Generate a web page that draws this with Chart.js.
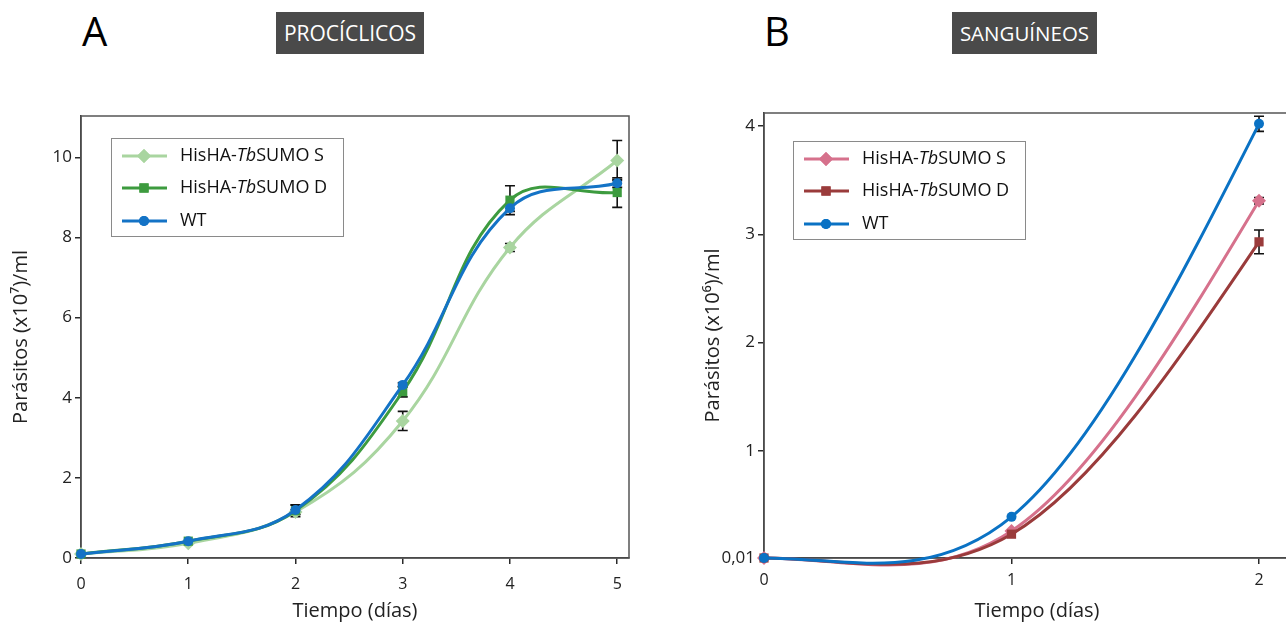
<!DOCTYPE html>
<html lang="es">
<head>
  <meta charset="UTF-8">
  <title>Curvas de crecimiento</title>
  <script src="https://cdn.jsdelivr.net/npm/chart.js"></script>
  <style>
    body {
      margin: 0;
      width: 1286px;
      height: 626px;
      overflow: hidden;
      position: relative;
      background: #fff;
      font-family: 'Open Sans', sans-serif;
      color: #000;
    }
    .panel {
      position: absolute;
      top: 0;
      width: 660px;
      height: 626px;
    }
    .letter {
      position: absolute;
      top: 7px;
      font-size: 40px;
      line-height: 48px;
    }
    .tag {
      position: absolute;
      top: 12px;
      height: 42px;
      line-height: 42px;
      background: #4a4a4a;
      color: #fff;
      font-size: 21px;
      text-align: center;
    }
  </style>
</head>
<body>
  <div class="letter" style="left:82px">A</div>
  <div class="tag" style="left:276px; width:148px">PROCÍCLICOS</div>
  <div class="letter" style="left:764px">B</div>
  <div class="tag" style="left:952px; width:145px; font-size:20.5px">SANGUÍNEOS</div>

  <div class="panel" style="left:0"><canvas id="procChart" width="660" height="626"></canvas></div>
  <div class="panel" style="left:680px"><canvas id="bloodChart" width="660" height="626"></canvas></div>

  <script>
    // procíclicos (x10^7/ml)
    const procDays = [0, 1, 2, 3, 4, 5];
    const procS  = [0.10, 0.37, 1.15, 3.42, 7.75, 9.92];
    const procD  = [0.10, 0.42, 1.18, 4.15, 8.93, 9.12];
    const procWT = [0.10, 0.42, 1.20, 4.32, 8.73, 9.35];
    const procSErr  = [0, 0, 0.05, 0.24, 0.10, 0.50];
    const procDErr  = [0, 0, 0.15, 0.13, 0.36, 0.37];
    const procWTErr = [0, 0, 0.12, 0.05, 0.08, 0.10];
    const procXTicks = [0, 1, 2, 3, 4, 5];
    const procYTicks = [0, 2, 4, 6, 8, 10];

    // sanguíneos (x10^6/ml)
    const bloodDays = [0, 1, 2];
    const bloodS  = [0.01, 0.26, 3.31];
    const bloodD  = [0.01, 0.23, 2.93];
    const bloodWT = [0.01, 0.39, 4.02];
    const bloodSErr  = [0, 0, 0.03];
    const bloodDErr  = [0, 0, 0.11];
    const bloodWTErr = [0, 0, 0.07];
    const bloodXTicks = [0, 1, 2];
    const bloodYTicks = [0.01, 1, 2, 3, 4];

    // legend labels: [normal, italic, normal]
    const nameS  = ['HisHA-', 'Tb', 'SUMO S'];
    const nameD  = ['HisHA-', 'Tb', 'SUMO D'];
    const nameWT = ['WT', '', ''];

    const FONT = "'Open Sans', sans-serif";
    const AXIS = '#2a2a2a';

    function toPoints(xs, ys) {
      return xs.map((x, i) => ({ x: x, y: ys[i] }));
    }

    function series(name, xs, ys, errs, color, style, radius, order) {
      return {
        label: name.join(''),
        legendParts: name,
        data: toPoints(xs, ys),
        errors: errs,
        borderColor: color,
        backgroundColor: color,
        borderWidth: 3,
        pointStyle: style,
        pointRadius: radius,
        pointBorderWidth: 0,
        tension: 0.4,
        clip: 10,
        order: order
      };
    }

    // cubic spline slopes, natural at the end, fixed slope at the start
    function splineSlopes(xs, ys, startSlope) {
      const n = xs.length;
      const h = [], d = [];
      for (let i = 0; i < n - 1; i++) {
        h[i] = xs[i + 1] - xs[i];
        d[i] = (ys[i + 1] - ys[i]) / h[i];
      }
      const a = [0], b = [2 * h[0]], c = [h[0]], r = [6 * (d[0] - startSlope)];
      for (let i = 1; i < n - 1; i++) {
        a[i] = h[i - 1]; b[i] = 2 * (h[i - 1] + h[i]); c[i] = h[i]; r[i] = 6 * (d[i] - d[i - 1]);
      }
      a[n - 1] = 0; b[n - 1] = 1; c[n - 1] = 0; r[n - 1] = 0;
      for (let i = 1; i < n; i++) {
        const w = a[i] / b[i - 1];
        b[i] -= w * c[i - 1];
        r[i] -= w * r[i - 1];
      }
      const M = [];
      M[n - 1] = r[n - 1] / b[n - 1];
      for (let i = n - 2; i >= 0; i--) M[i] = (r[i] - c[i] * M[i + 1]) / b[i];
      const m = [];
      for (let i = 0; i < n - 1; i++) m[i] = d[i] - h[i] * (2 * M[i] + M[i + 1]) / 6;
      m[n - 1] = d[n - 2] + h[n - 2] * (2 * M[n - 1] + M[n - 2]) / 6;
      return m;
    }

    // swap chart.js control points for spline ones (sanguíneos only)
    const spline = {
      id: 'spline',
      afterDatasetUpdate(chart, args, opts) {
        if (!opts.flatStart) return;
        const pts = args.meta.data;
        const xs = pts.map(p => p.x), ys = pts.map(p => p.y);
        const m = splineSlopes(xs, ys, 0);
        pts.forEach((p, i) => {
          const hp = i > 0 ? (xs[i] - xs[i - 1]) / 3 : 0;
          const hn = i < pts.length - 1 ? (xs[i + 1] - xs[i]) / 3 : 0;
          p.cp1x = xs[i] - hp; p.cp1y = ys[i] - m[i] * hp;
          p.cp2x = xs[i] + hn; p.cp2y = ys[i] + m[i] * hn;
        });
        args.meta.dataset._pointsUpdated = true;
      }
    };

    // error bars, drawn under the lines
    const errorBars = {
      id: 'errorBars',
      beforeDatasetsDraw(chart) {
        const ctx = chart.ctx;
        const xs = chart.scales.x, ys = chart.scales.y;
        ctx.save();
        ctx.strokeStyle = '#111';
        ctx.lineWidth = 1.6;
        chart.data.datasets.forEach(ds => {
          ds.data.forEach((p, i) => {
            const e = ds.errors[i];
            if (!e) return;
            const x = xs.getPixelForValue(p.x);
            const y1 = ys.getPixelForValue(p.y + e);
            const y2 = ys.getPixelForValue(p.y - e);
            ctx.beginPath();
            ctx.moveTo(x, y1); ctx.lineTo(x, y2);
            ctx.moveTo(x - 5, y1); ctx.lineTo(x + 5, y1);
            ctx.moveTo(x - 5, y2); ctx.lineTo(x + 5, y2);
            ctx.stroke();
          });
        });
        ctx.restore();
      }
    };

    // box around plot area
    const frame = {
      id: 'frame',
      beforeDatasetsDraw(chart) {
        const a = chart.chartArea, ctx = chart.ctx;
        ctx.save();
        ctx.strokeStyle = '#555';
        ctx.lineWidth = 1.5;
        ctx.strokeRect(a.left, a.top, a.right - a.left, a.bottom - a.top);
        ctx.restore();
      }
    };

    // legend with italic "Tb"
    const boxLegend = {
      id: 'boxLegend',
      afterDraw(chart, args, opts) {
        const ctx = chart.ctx, a = chart.chartArea;
        const bx = a.left + opts.dx, by = a.top + opts.dy;
        ctx.save();
        ctx.fillStyle = '#fff';
        ctx.fillRect(bx, by, 232, 98);
        ctx.strokeStyle = '#8a8a8a';
        ctx.lineWidth = 1;
        ctx.strokeRect(bx + 0.5, by + 0.5, 232, 98);
        const rows = [18, 50, 83];
        chart.data.datasets.forEach((ds, k) => {
          const y = by + rows[k];
          ctx.strokeStyle = ds.borderColor;
          ctx.lineWidth = 3;
          ctx.beginPath();
          ctx.moveTo(bx + 11, y); ctx.lineTo(bx + 56, y);
          ctx.stroke();
          ctx.fillStyle = ds.borderColor;
          Chart.helpers.drawPoint(ctx, { pointStyle: ds.pointStyle, radius: ds.pointRadius, borderWidth: 0 }, bx + 33, y);
          ctx.fill();
          let tx = bx + 69;
          ctx.fillStyle = '#111';
          ctx.textBaseline = 'middle';
          ds.legendParts.forEach((part, j) => {
            if (!part) return;
            ctx.font = (j === 1 ? 'italic ' : '') + '18px ' + FONT;
            ctx.fillText(part, tx, y);
            tx += ctx.measureText(part).width;
          });
        });
        ctx.restore();
      }
    };

    function makeChart(id, cfg) {
      const ctx = document.getElementById(id).getContext('2d');
      return new Chart(ctx, {
        type: 'line',
        data: { datasets: cfg.datasets },
        plugins: [spline, frame, errorBars, boxLegend],
        options: {
          responsive: false,
          animation: false,
          layout: { autoPadding: false, padding: cfg.padding },
          plugins: {
            legend: { display: false },
            tooltip: { enabled: false },
            boxLegend: cfg.legend,
            spline: { flatStart: cfg.flatStart }
          },
          scales: {
            x: {
              type: 'linear',
              min: 0,
              max: cfg.xMax,
              afterBuildTicks: s => { s.ticks = cfg.xTicks.map(v => ({ value: v })); },
              afterFit: s => { s.height = 68; },
              grid: { drawOnChartArea: false, drawTicks: true, tickLength: 6, color: AXIS, lineWidth: 1.5 },
              border: { color: AXIS, width: 1.5 },
              ticks: { color: '#222', padding: cfg.xPad, font: { family: FONT, size: 16 } },
              title: { display: true, text: 'Tiempo (días)', color: '#222', padding: { top: 0, bottom: 3 }, font: { family: FONT, size: 20 } }
            },
            y: {
              type: 'linear',
              min: cfg.yMin,
              max: cfg.yMax,
              afterBuildTicks: s => { s.ticks = cfg.yTicks.map(v => ({ value: v })); },
              afterFit: s => { s.width = cfg.yWidth; },
              grid: { drawOnChartArea: false, drawTicks: true, tickLength: 6, color: AXIS, lineWidth: 1.5 },
              border: { color: AXIS, width: 1.5 },
              ticks: {
                color: '#222', padding: 3, font: { family: FONT, size: 17 },
                callback: v => String(v).replace('.', ',')
              },
              title: { display: true, text: cfg.yTitle, color: '#222', padding: { top: cfg.yTitlePad, bottom: 0 }, font: { family: FONT, size: 20 } }
            }
          }
        }
      });
    }

    makeChart('procChart', {
      datasets: [
        series(nameS, procDays, procS, procSErr, '#a9d5a0', 'rectRot', 7, 2),
        series(nameD, procDays, procD, procDErr, '#3d9b3f', 'rect', 6.5, 1),
        series(nameWT, procDays, procWT, procWTErr, '#1473c6', 'circle', 5, 0)
      ],
      padding: { top: 116, right: 31, left: 0, bottom: 0 },
      xMax: 5.11, xTicks: procXTicks, xPad: 11,
      yMin: 0, yMax: 11.03, yTicks: procYTicks, yWidth: 81, yTitlePad: 9,
      yTitle: 'Parásitos (x10⁷)/ml',
      legend: { dx: 30, dy: 22 },
      flatStart: false
    });

    makeChart('bloodChart', {
      datasets: [
        series(nameS, bloodDays, bloodS, bloodSErr, '#d6718c', 'rectRot', 7, 2),
        series(nameD, bloodDays, bloodD, bloodDErr, '#9a3b3b', 'rect', 6.5, 1),
        series(nameWT, bloodDays, bloodWT, bloodWTErr, '#0a72c4', 'circle', 5, 0)
      ],
      padding: { top: 113, right: 30, left: 0, bottom: 0 },
      xMax: 2.206, xTicks: bloodXTicks, xPad: 7,
      yMin: 0.01, yMax: 4.12, yTicks: bloodYTicks, yWidth: 84, yTitlePad: 21,
      yTitle: 'Parásitos (x10⁶)/ml',
      legend: { dx: 29, dy: 28 },
      flatStart: true
    });
  </script>
</body>
</html>
